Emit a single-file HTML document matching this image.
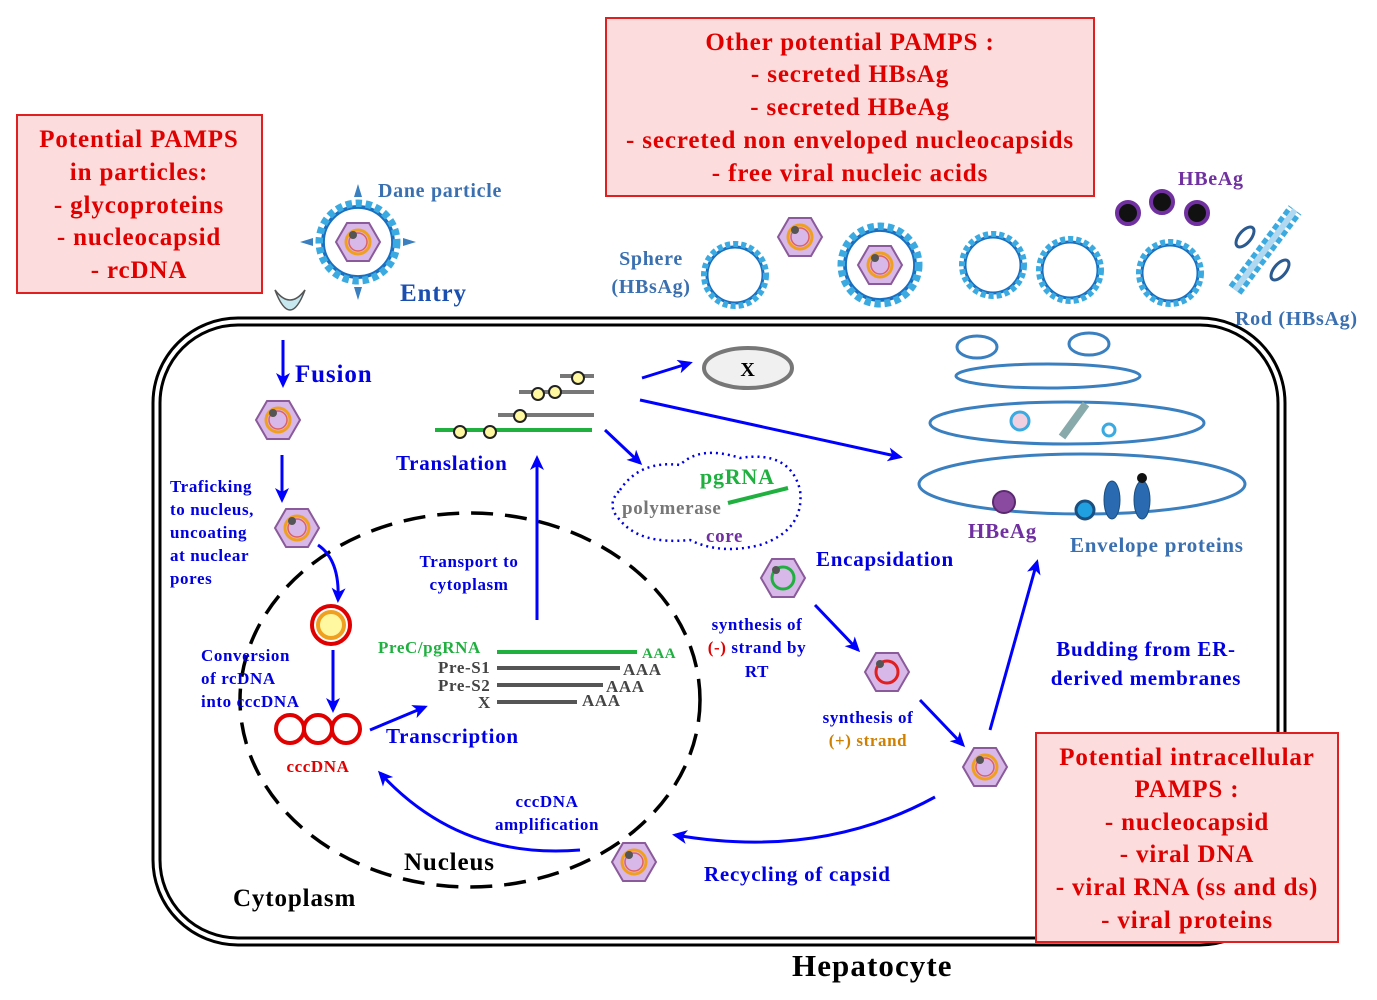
<!DOCTYPE html>
<html><head><meta charset="utf-8"><style>
html,body{margin:0;padding:0;background:#fff;}
svg{display:block;font-family:"Liberation Serif",serif;font-weight:bold;}
svg text{letter-spacing:0.035em;}
</style></head><body>
<svg width="1377" height="1000" viewBox="0 0 1377 1000" xmlns="http://www.w3.org/2000/svg">
<defs>
<marker id="ar" markerWidth="16" markerHeight="14" refX="12" refY="7" orient="auto" markerUnits="userSpaceOnUse"><path d="M0,0 L15,7 L0,14 L4,7 Z" fill="#0000ff"/></marker>
<g id="cap"><polygon points="-22,0 -11,-19 11,-19 22,0 11,19 -11,19" fill="#d8b8e8" stroke="#8a5a9a" stroke-width="2"/><circle r="12" fill="none" stroke="#f0a020" stroke-width="3"/><circle r="9" fill="none" stroke="#e06060" stroke-width="1.5"/><circle cx="-5" cy="-7" r="4" fill="#555"/></g>
<g id="sph"><circle r="28" fill="#fff" stroke="#1a6fc0" stroke-width="3"/><circle r="31" fill="none" stroke="#3aaae0" stroke-width="6" stroke-dasharray="5 3"/></g>
</defs>
<rect x="17" y="115" width="245" height="178" fill="#fcdcdc" stroke="#e02020" stroke-width="2"/>
<g fill="#e00000" font-size="25" text-anchor="middle">
<text x="139" y="147">Potential PAMPS</text><text x="139" y="180">in particles:</text><text x="139" y="213">- glycoproteins</text><text x="139" y="245">- nucleocapsid</text><text x="139" y="278">- rcDNA</text></g>
<rect x="606" y="18" width="488" height="178" fill="#fcdcdc" stroke="#e02020" stroke-width="2"/>
<g fill="#e00000" font-size="25" text-anchor="middle">
<text x="850" y="50">Other potential PAMPS :</text><text x="850" y="82">- secreted HBsAg</text><text x="850" y="115">- secreted HBeAg</text><text x="850" y="148">- secreted non enveloped nucleocapsids</text><text x="850" y="181">- free viral nucleic acids</text></g>
<rect x="153" y="318" width="1132" height="627" rx="85" fill="none" stroke="#000" stroke-width="3"/>
<rect x="160" y="325" width="1118" height="613" rx="78" fill="none" stroke="#000" stroke-width="3"/>
<rect x="1036" y="733" width="302" height="209" fill="#fcdcdc" stroke="#e02020" stroke-width="2"/>
<g fill="#e00000" font-size="25" text-anchor="middle">
<text x="1187" y="765">Potential intracellular</text><text x="1187" y="797">PAMPS :</text><text x="1187" y="830">- nucleocapsid</text><text x="1187" y="862">- viral DNA</text><text x="1187" y="895">- viral RNA (ss and ds)</text><text x="1187" y="928">- viral proteins</text></g>
<ellipse cx="470" cy="700" rx="230" ry="187" fill="none" stroke="#000" stroke-width="3.5" stroke-dasharray="22 12"/>
<g transform="translate(358,242)"><use href="#sph" transform="scale(1.25)"/><g fill="#3a7fc0"><path d="M-4,-45 L0,-58 L4,-45Z"/><path d="M-4,45 L0,58 L4,45Z"/><path d="M-45,-4 L-58,0 L-45,4Z"/><path d="M45,-4 L58,0 L45,4Z"/></g><use href="#cap"/></g>
<text x="378" y="197" fill="#3a6fb0" font-size="20">Dane particle</text>
<text x="400" y="301" fill="#1a4fb0" font-size="25">Entry</text>
<path d="M275,290 Q290,330 305,290 Q290,310 275,290Z" fill="#c8e8f0" stroke="#555" stroke-width="1.5"/>
<use href="#sph" transform="translate(735,275)"/>
<use href="#cap" transform="translate(800,237)"/>
<g transform="translate(880,265)"><use href="#sph" transform="scale(1.25)"/><use href="#cap"/></g>
<use href="#sph" transform="translate(993,265)"/>
<use href="#sph" transform="translate(1070,270)"/>
<use href="#sph" transform="translate(1170,273)"/>
<text x="651" y="265" fill="#3a6fb0" font-size="20" text-anchor="middle">Sphere</text>
<text x="651" y="293" fill="#3a6fb0" font-size="20" text-anchor="middle">(HBsAg)</text>
<g fill="#111" stroke="#7030a0" stroke-width="4"><circle cx="1128" cy="213" r="11"/><circle cx="1162" cy="202" r="11"/><circle cx="1197" cy="213" r="11"/></g>
<text x="1178" y="185" fill="#7030a0" font-size="20">HBeAg</text>
<path d="M1235,290 L1295,210" stroke="#3aaae0" stroke-width="16" stroke-dasharray="6 3"/>
<path d="M1235,290 L1295,210" stroke="#b0d8f0" stroke-width="6"/>
<ellipse cx="1245" cy="237" rx="12" ry="6" fill="none" stroke="#2a5a90" stroke-width="3" transform="rotate(-50 1245 237)"/>
<ellipse cx="1280" cy="270" rx="12" ry="6" fill="none" stroke="#2a5a90" stroke-width="3" transform="rotate(-50 1280 270)"/>
<text x="1235" y="325" fill="#3a6fb0" font-size="20">Rod (HBsAg)</text>
<text x="295" y="382" fill="#0000e0" font-size="25">Fusion</text>
<g stroke="#0000ff" stroke-width="3" fill="none" marker-end="url(#ar)">
<line x1="283" y1="340" x2="283" y2="385"/><line x1="282" y1="455" x2="282" y2="500"/>
<path d="M318,545 Q340,560 338,600"/><line x1="333" y1="650" x2="333" y2="710"/>
<line x1="370" y1="730" x2="425" y2="707"/><line x1="537" y1="620" x2="537" y2="458"/>
<line x1="642" y1="378" x2="690" y2="363"/><line x1="640" y1="400" x2="900" y2="457"/>
<line x1="605" y1="430" x2="640" y2="463"/><line x1="815" y1="605" x2="858" y2="650"/>
<line x1="920" y1="700" x2="963" y2="745"/><line x1="990" y1="730" x2="1037" y2="562"/>
<path d="M935,797 Q820,860 675,835"/><path d="M580,850 Q460,860 380,773"/>
</g>
<use href="#cap" transform="translate(278,420)"/>
<use href="#cap" transform="translate(297,528)"/>
<circle cx="331" cy="625" r="19" fill="none" stroke="#e00000" stroke-width="4"/><circle cx="331" cy="625" r="13" fill="#fff8a0" stroke="#f0a020" stroke-width="4"/>
<g fill="none" stroke="#e00000" stroke-width="4"><circle cx="290" cy="729" r="14"/><circle cx="318" cy="729" r="14"/><circle cx="346" cy="729" r="14"/></g>
<text x="318" y="772" fill="#e00000" font-size="17" text-anchor="middle">cccDNA</text>
<g fill="#0000e0" font-size="17"><text x="170" y="492">Traficking</text><text x="170" y="515">to nucleus,</text><text x="170" y="538">uncoating</text><text x="170" y="561">at nuclear</text><text x="170" y="584">pores</text>
<text x="201" y="661">Conversion</text><text x="201" y="684">of rcDNA</text><text x="201" y="707">into cccDNA</text>
<text x="469" y="567" text-anchor="middle">Transport to</text><text x="469" y="590" text-anchor="middle">cytoplasm</text>
<text x="547" y="807" text-anchor="middle">cccDNA</text><text x="547" y="830" text-anchor="middle">amplification</text>
<text x="757" y="630" text-anchor="middle">synthesis of</text><text x="757" y="677" text-anchor="middle">RT</text>
<text x="868" y="723" text-anchor="middle">synthesis of</text></g>
<text x="757" y="653" font-size="17" text-anchor="middle" fill="#0000e0"><tspan fill="#e00000">(-)</tspan> strand by</text>
<text x="868" y="746" font-size="17" text-anchor="middle" fill="#d08000">(+) strand</text>
<g fill="#0000e0" font-size="21"><text x="386" y="743">Transcription</text><text x="396" y="470">Translation</text><text x="816" y="566">Encapsidation</text>
<text x="1146" y="656" text-anchor="middle">Budding from ER-</text><text x="1146" y="685" text-anchor="middle">derived membranes</text>
<text x="704" y="881">Recycling of capsid</text><text x="1070" y="552" fill="#3a6fb0">Envelope proteins</text></g>
<text x="378" y="653" fill="#20b040" font-size="17">PreC/pgRNA</text>
<g fill="#444" font-size="17"><text x="438" y="673">Pre-S1</text><text x="438" y="691">Pre-S2</text><text x="478" y="708">X</text>
<text x="623" y="675">AAA</text><text x="606" y="692">AAA</text><text x="582" y="706">AAA</text></g>
<text x="642" y="658" fill="#20b040" font-size="15">AAA</text>
<g stroke-width="4"><line x1="497" y1="652" x2="637" y2="652" stroke="#20b040"/><line x1="497" y1="668" x2="620" y2="668" stroke="#555"/><line x1="497" y1="685" x2="603" y2="685" stroke="#555"/><line x1="497" y1="702" x2="577" y2="702" stroke="#555"/></g>
<g stroke-width="4"><line x1="435" y1="430" x2="592" y2="430" stroke="#20b040"/><line x1="498" y1="415" x2="594" y2="415" stroke="#777"/><line x1="519" y1="392" x2="594" y2="392" stroke="#777"/><line x1="560" y1="376" x2="594" y2="376" stroke="#777"/></g>
<g fill="#fff8a0" stroke="#222" stroke-width="2"><circle cx="460" cy="432" r="6"/><circle cx="490" cy="432" r="6"/><circle cx="520" cy="416" r="6"/><circle cx="538" cy="394" r="6"/><circle cx="555" cy="392" r="6"/><circle cx="578" cy="378" r="6"/></g>
<ellipse cx="748" cy="368" rx="44" ry="20" fill="#f0f0f0" stroke="#777" stroke-width="4"/>
<text x="748" y="376" font-size="20" text-anchor="middle">X</text>
<path d="M620,490 Q640,460 680,465 Q700,445 740,458 Q790,450 800,490 Q805,530 760,545 Q720,555 690,540 Q640,545 620,520 Q605,505 620,490Z" fill="none" stroke="#0000e0" stroke-width="2.5" stroke-dasharray="2 4"/>
<text x="700" y="484" fill="#20b040" font-size="22">pgRNA</text>
<line x1="728" y1="503" x2="788" y2="488" stroke="#20b040" stroke-width="4"/>
<text x="622" y="514" fill="#777" font-size="19">polymerase</text>
<text x="706" y="542" fill="#7030a0" font-size="19">core</text>
<g transform="translate(783,578)"><polygon points="-22,0 -11,-19 11,-19 22,0 11,19 -11,19" fill="#d8b8e8" stroke="#8a5a9a" stroke-width="2"/><circle r="11" fill="none" stroke="#20b040" stroke-width="3"/><circle cx="-7" cy="-8" r="4" fill="#555"/></g>
<g transform="translate(887,672)"><polygon points="-22,0 -11,-19 11,-19 22,0 11,19 -11,19" fill="#d8b8e8" stroke="#8a5a9a" stroke-width="2"/><circle r="11" fill="none" stroke="#e02020" stroke-width="3"/><circle cx="-7" cy="-8" r="4" fill="#555"/></g>
<use href="#cap" transform="translate(985,767)"/>
<use href="#cap" transform="translate(634,862)"/>
<g fill="none" stroke="#3a7fc0" stroke-width="3"><ellipse cx="977" cy="347" rx="20" ry="11"/><ellipse cx="1089" cy="344" rx="20" ry="11"/><ellipse cx="1048" cy="376" rx="92" ry="12"/><ellipse cx="1067" cy="423" rx="137" ry="21"/><ellipse cx="1082" cy="484" rx="163" ry="30"/></g>
<circle cx="1020" cy="421" r="9" fill="#f0d0e0" stroke="#3aaae0" stroke-width="3"/>
<path d="M1062,437 L1086,404" stroke="#8aa" stroke-width="8"/>
<circle cx="1109" cy="430" r="6" fill="none" stroke="#3aaae0" stroke-width="3"/>
<circle cx="1004" cy="502" r="11" fill="#8a4aa0" stroke="#5a2a70" stroke-width="2"/>
<circle cx="1085" cy="510" r="9" fill="#20a0e0" stroke="#1a4f80" stroke-width="3"/>
<ellipse cx="1112" cy="500" rx="8" ry="19" fill="#2a6ab0" stroke="#1a4f80"/>
<ellipse cx="1142" cy="500" rx="8" ry="19" fill="#2a6ab0" stroke="#1a4f80"/>
<circle cx="1142" cy="478" r="5" fill="#111"/>
<text x="968" y="538" fill="#7030a0" font-size="21">HBeAg</text>
<text x="404" y="870" font-size="25">Nucleus</text>
<text x="233" y="906" font-size="25">Cytoplasm</text>
<text x="792" y="976" font-size="31">Hepatocyte</text>
</svg>
</body></html>
